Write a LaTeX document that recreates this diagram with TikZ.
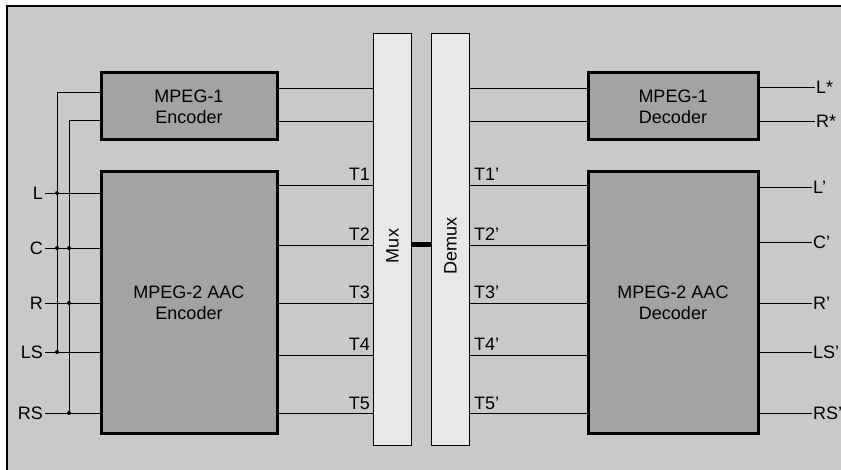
\documentclass[tikz,border=0pt]{standalone}
\usepackage{fontspec}
\setmainfont{Liberation Sans}
\definecolor{bgc}{gray}{0.79}
\definecolor{boxc}{gray}{0.64}
\definecolor{muxc}{gray}{0.91}
\begin{document}
\begin{tikzpicture}[x=1pt,y=-1pt,
  txt/.style={font=\fontsize{18}{21}\selectfont,inner sep=0pt},
  blk/.style={draw,line width=3pt,fill=boxc,inner sep=0pt,align=center,font=\fontsize{18}{21}\selectfont},
  bar/.style={draw,line width=0.8pt,fill=muxc,inner sep=0pt,minimum width=38pt,minimum height=412pt},
  ln/.style={line width=0.8pt},
  dot/.style={circle,fill=black,inner sep=0pt,minimum size=4pt}]
\useasboundingbox (0,0) rectangle (841,470);
\fill[white] (0,0) rectangle (841,470);
\fill[bgc] (7,6) rectangle (841,470);
\draw[line width=1.5pt] (7,470) -- (7,6) -- (841,6);

% blocks
\node[blk,minimum width=176pt,minimum height=67pt] (enc1) at (189,106.5) {MPEG-1\\Encoder};
\node[blk,minimum width=176pt,minimum height=261pt] (enc2) at (189,302.5) {MPEG-2 AAC\\Encoder};
\node[bar] (mux) at (392.5,239) {};
\node[bar] (demux) at (450.5,239) {};
\node[txt,rotate=90] (muxl) at (392.5,246) {Mux};
\node[txt,rotate=90] (demuxl) at (450.5,246) {Demux};
\node[blk,minimum width=170pt,minimum height=67pt] (dec1) at (673,106.5) {MPEG-1\\Decoder};
\node[blk,minimum width=170pt,minimum height=261pt] (dec2) at (673,302.5) {MPEG-2 AAC\\Decoder};

% mux-demux link
\draw[line width=5pt] (mux.east |- 0,245) -- (demux.west |- 0,245);

% inputs
\foreach \n/\t/\y in {iL/L/193, iC/C/248, iR/R/303, iLS/LS/352, iRS/RS/413}{
  \node[txt,anchor=east] (\n) at (43,\y) {\t};
  \draw[ln] ([xshift=2pt]\n.east) -- (enc2.west |- \n.east);
}
\coordinate (ja) at (57,92);
\coordinate (jb) at (69,120);
\draw[ln] (enc1.west |- ja) -- (ja) -- (ja |- iLS.east);
\draw[ln] (enc1.west |- jb) -- (jb) -- (jb |- iRS.east);
\foreach \a/\b in {ja/iL, ja/iC, jb/iC, jb/iR, ja/iLS, jb/iRS}{
  \node[dot] at (\a |- \b.east) {};
}

% MPEG-1 paths
\foreach \y in {88,121}{
  \draw[ln] (enc1.east |- 0,\y) -- (mux.west |- 0,\y);
  \draw[ln] (demux.east |- 0,\y) -- (dec1.west |- 0,\y);
}

% T channels
\foreach \i/\y in {1/185,2/245,3/303,4/355,5/413}{
  \draw[ln] (enc2.east |- 0,\y) -- (mux.west |- 0,\y);
  \draw[ln] (demux.east |- 0,\y) -- (dec2.west |- 0,\y);
  \node[txt,anchor=base east] (t\i) at (370,\y-4) {T\i};
  \node[txt,anchor=base west] (tp\i) at (474,\y-4) {T\i'};
}

% outputs
\foreach \n/\t/\y in {oLs/L*/87, oRs/R*/121}{
  \node[txt,anchor=west] (\n) at (816,\y) {\t};
  \draw[ln] (dec1.east |- \n.west) -- ([xshift=-1pt]\n.west);
}
\foreach \n/\t/\y in {oL/L'/187, oC/C'/242, oR/R'/303, oLS/LS'/352, oRS/RS'/413}{
  \node[txt,anchor=west] (\n) at (813,\y) {\t};
  \draw[ln] (dec2.east |- \n.west) -- ([xshift=-1pt]\n.west);
}
\end{tikzpicture}
\end{document}
